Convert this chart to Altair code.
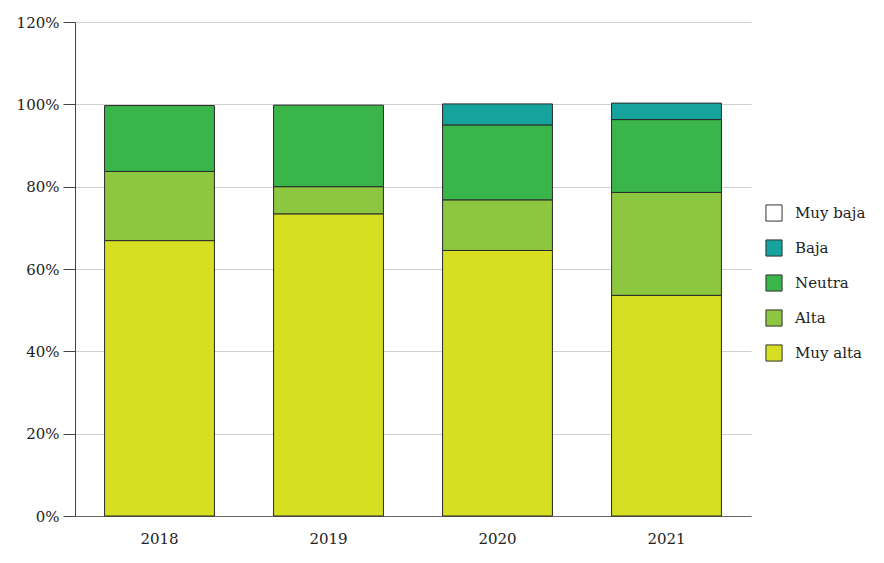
import altair as alt
import pandas as pd

years = ["2018", "2019", "2020", "2021"]
categories = ["Muy baja", "Baja", "Neutra", "Alta", "Muy alta"]
colors = ["#ffffff", "#17a39d", "#39b54a", "#8dc63f", "#d7df23"]

muy_alta = [66.9, 73.4, 64.5, 53.6]
alta = [16.8, 6.6, 12.3, 25.0]
neutra = [16.0, 19.8, 18.2, 17.7]
baja = [0.0, 0.0, 5.1, 4.0]

series = {"Muy alta": muy_alta, "Alta": alta, "Neutra": neutra, "Baja": baja}
stack_rank = {"Muy alta": 0, "Alta": 1, "Neutra": 2, "Baja": 3, "Muy baja": 4}

rows = []
for cat, vals in series.items():
    for y, v in zip(years, vals):
        if v > 0:
            rows.append({"year": y, "cat": cat, "value": v, "rank": stack_rank[cat]})
df = pd.DataFrame(rows)

FONT = "DejaVu Serif"

chart = alt.Chart(df).mark_bar(stroke="#2a2a2a", strokeWidth=1).encode(
    x=alt.X("year:N", sort=years, title=None,
            scale=alt.Scale(paddingInner=0.35, paddingOuter=0.175),
            axis=alt.Axis(labelAngle=0, ticks=False, labelPadding=15, domainColor="#666666",
                          labelFont=FONT, labelFontSize=15, labelColor="#222222")),
    y=alt.Y("value:Q", stack="zero", title=None,
            scale=alt.Scale(domain=[0, 120], nice=False),
            axis=alt.Axis(values=[0, 20, 40, 60, 80, 100, 120], labelExpr="datum.value + '%'",
                          tickSize=12, tickColor="#444444", domainColor="#444444",
                          gridColor="#d0d0d0", labelPadding=4,
                          labelFont=FONT, labelFontSize=15, labelColor="#222222")),
    color=alt.Color("cat:N", title=None,
                    scale=alt.Scale(domain=categories, range=colors),
                    legend=alt.Legend(orient="none", legendX=690, legendY=182,
                                      symbolType="square", symbolSize=260,
                                      symbolStrokeColor="#333333", symbolStrokeWidth=1,
                                      rowPadding=13, labelFont=FONT, labelFontSize=15,
                                      labelColor="#222222", labelOffset=12)),
    order=alt.Order("rank:Q", sort="ascending"),
).properties(
    width=676, height=494,
    autosize=alt.AutoSizeParams(type="none"),
    padding={"left": 67, "top": 14, "right": 125, "bottom": 40},
).configure_view(stroke=None).configure_axis(grid=True).configure_axisX(grid=False)

chart.save("out.html", embed_options={"renderer": "svg", "actions": False})
